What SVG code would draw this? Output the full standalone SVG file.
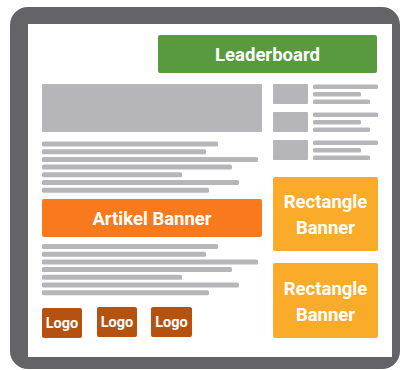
<svg xmlns="http://www.w3.org/2000/svg" width="401" height="370" viewBox="0 0 401 370">
<style>
.g{fill:#b5b5ba}
.ln{fill:#b5b5ba}
.t{font-family:Roboto,"Liberation Sans",sans-serif;font-weight:700;fill:#ffffff;text-anchor:middle}
.big{font-size:18.5px}
.logo{font-size:14.5px}
.lb{fill:#5a9a3f}
.ab{fill:#f97a1c}
.rb{fill:#fbab2a}
.lg{fill:#b5520f}
</style>
<defs>
<g id="lines">
<rect class="ln" x="42" y="0" width="176" height="5" rx="1.5"/>
<rect class="ln" x="42" y="7.7" width="164" height="5" rx="1.5"/>
<rect class="ln" x="42" y="15.4" width="216" height="5" rx="1.5"/>
<rect class="ln" x="42" y="23.1" width="190" height="5" rx="1.5"/>
<rect class="ln" x="42" y="30.8" width="140" height="5" rx="1.5"/>
<rect class="ln" x="42" y="38.5" width="197" height="5" rx="1.5"/>
<rect class="ln" x="42" y="46.2" width="167" height="5" rx="1.5"/>
</g>
<g id="side">
<rect class="g" x="273" y="0" width="35" height="20" rx="1"/>
<rect class="ln" x="313" y="0.5" width="65" height="4.5" rx="1.5"/>
<rect class="ln" x="313" y="8" width="48" height="4.5" rx="1.5"/>
<rect class="ln" x="313" y="15.5" width="57" height="4.5" rx="1.5"/>
</g>
</defs>
<g id="frame">
<rect x="10" y="7" width="390" height="362" rx="18" fill="#636368"/>
<rect x="28" y="24" width="364" height="333" fill="#ffffff"/>
</g>
<g id="leaderboard">
<rect class="lb" x="158" y="35" width="219" height="38" rx="2"/>
<text class="t big" x="267.5" y="60.5">Leaderboard</text>
</g>
<g id="image-block">
<rect class="g" x="42" y="84" width="220" height="48" rx="1"/>
</g>
<g id="text-top"><use href="#lines" y="141.5"/></g>
<g id="side-items">
<use href="#side" y="84"/>
<use href="#side" y="112"/>
<use href="#side" y="140"/>
</g>
<g id="artikel-banner">
<rect class="ab" x="42" y="199" width="220" height="38" rx="2"/>
<text class="t big" x="152" y="224.5">Artikel Banner</text>
</g>
<g id="text-bottom"><use href="#lines" y="244"/></g>
<g id="rect-banner-1">
<rect class="rb" x="273" y="177" width="105" height="74" rx="2"/>
<text class="t big" x="325.5" y="208">Rectangle</text>
<text class="t big" x="325.5" y="233.5">Banner</text>
</g>
<g id="rect-banner-2">
<rect class="rb" x="273" y="263" width="105" height="75" rx="2"/>
<text class="t big" x="325.5" y="295">Rectangle</text>
<text class="t big" x="325.5" y="320.5">Banner</text>
</g>
<g id="logo-1">
<rect class="lg" x="42" y="308" width="40" height="30" rx="2"/>
<text class="t logo" x="62" y="328">Logo</text>
</g>
<g id="logo-2">
<rect class="lg" x="97" y="307" width="40" height="30" rx="2"/>
<text class="t logo" x="117" y="327">Logo</text>
</g>
<g id="logo-3">
<rect class="lg" x="151" y="307" width="41" height="30" rx="2"/>
<text class="t logo" x="171.5" y="327">Logo</text>
</g>
</svg>
